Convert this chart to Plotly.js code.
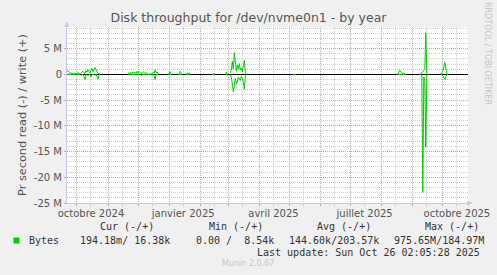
<!DOCTYPE html>
<html>
<head>
<meta charset="utf-8">
<script src="https://cdn.plot.ly/plotly-3.0.1.min.js"></script>
<style>
  html, body { margin: 0; padding: 0; background: #f0f0f0; }
  #chart { width: 497px; height: 275px; }
</style>
</head>
<body>
<div id="chart"></div>
<script>
// ---------- DATA (values in M bytes/s, daily samples) ----------
const rangeStart = '2024-09-21 02:05:28';
const rangeEnd   = '2025-10-26 02:05:28';

// each cluster: first day, write values (+), read values (shown as -)
const clusterStarts = ['2024-09-21','2024-11-21','2024-12-31','2025-01-10','2025-01-18',
                       '2025-02-13','2025-02-26','2025-03-03','2025-05-05','2025-08-17',
                       '2025-09-08','2025-09-29'];
const writeA = [0.6,0.7,0.5,0.3,0.2,0.2,0.1,0.3,0.2,0.1,0.2,0.3,0.2,0.1,0.3,0.5,0.6,0.3,0.2,0.7,0.4,0.9,0.5,0.3,0.8,1.2,0.5,0.9,1.3,1.0,0.4,0.2,0.1,0];
const readA  = [0,0,0.1,0,0,0.1,0,0,0,0.1,0,0,0,0,0.2,0,0,0.4,1.0,0.2,0,0.3,0,0,0.5,0,0,0,0.2,0,0.4,0.9,0.2,0];
const writeB = [0.2,0.3,0.1,0.4,0.2,0.5,0.3,0.4,0.2,0.6,0.3,0.5,0.4,0.2,0.3,0.5,0.4,0.2,0.3,0.1,0,0,0,0,0.1,0.4,0.2,0.9,0.3,0.5,0.1];
const readB  = [0,0,0,0,0,0,0,0,0,0,0,0,0,0.2,0,0,0,0,0,0,0,0,0,0,0,0,0.3,1.0,0,0,0];
const writeC1 = [0,0.2,0.5,0.1,0];
const readC1  = [0,0,0,0,0];
const writeC2 = [0,0.3,0.6,0.2,0];
const readC2  = [0,0,0,0,0];
const writeC3 = [0,0.3,0.1,0.3,0];
const readC3  = [0,0,0,0,0];
const writeC4 = [0,0.15,0];
const readC4  = [0,0,0];
const writeD0 = [0,0.4,0];
const readD0  = [0,0,0];
const writeD = [0.3,0.8,2.5,1.0,4.2,1.5,0.6,1.8,1.0,2.1,0.8,1.2,0.5,1.6,2.7,0.4,0];
const readD  = [0,0.6,1.8,3.4,2.2,0.8,1.9,1.5,0.5,0.9,1.2,0.4,0.8,1.6,2.9,0.3,0];
const writeE0 = [0,0,0];
const readE0  = [0,0.2,0];
const writeE = [0,0.4,0.8,0.5,0.3,0.2,0.2,0.1,0];
const readE  = [0,0,0,0,0,0,0,0,0];
const writeF = [0,0.1,0.3,0.5,0.8,1.0,8.1,0.2,0];
const readF  = [0,0,0.3,22.9,0.5,1.0,14.1,0.2,0];
const writeG = [0,0.2,0.6,1.4,2.3,1.2,0.2,0];
const readG  = [0,0,0.3,0.7,1.0,0.5,0,0];

const writeSets = [writeA,writeB,writeC1,writeC2,writeC3,writeC4,writeD0,writeD,writeE0,writeE,writeF,writeG];
const readSets  = [readA,readB,readC1,readC2,readC3,readC4,readD0,readD,readE0,readE,readF,readG];

// axis labels
const monthStarts = ['2024-10-01','2024-11-01','2024-12-01','2025-01-01','2025-02-01','2025-03-01',
                     '2025-04-01','2025-05-01','2025-06-01','2025-07-01','2025-08-01','2025-09-01','2025-10-01'];
const midMonths = ['2024-09-15','2024-10-15','2024-11-15','2024-12-15','2025-01-15','2025-02-15','2025-03-15',
                   '2025-04-15','2025-05-15','2025-06-15','2025-07-15','2025-08-15','2025-09-15','2025-10-15'];
const xLabelDates = ['2024-10-15','2025-01-15','2025-04-15','2025-07-15','2025-10-15'];
const xLabelText  = ['octobre 2024','janvier 2025','avril 2025','juillet 2025','octobre 2025'];
const yTickVals = [-25,-20,-15,-10,-5,0,5];
const yTickText = ['-25 M','-20 M','-15 M','-10 M','-5 M','0','5 M'];

const legendHeaders = ['Cur (-/+)','Min (-/+)','Avg (-/+)','Max (-/+)'];
const legendValues  = ['194.18m/ 16.38k','0.00 /  8.54k','144.60k/203.57k','975.65M/184.97M'];
const seriesName = 'Bytes';
const lastUpdate = 'Last update: Sun Oct 26 02:05:28 2025';

// ---------- build traces ----------
function addDays(iso, n) {
  const d = new Date(iso + 'T00:00:00Z');
  d.setUTCDate(d.getUTCDate() + n);
  return d.toISOString().slice(0, 10);
}
const xs = [], yw = [], yr = [];
clusterStarts.forEach((s, ci) => {
  writeSets[ci].forEach((v, i) => {
    xs.push(addDays(s, i)); yw.push(v); yr.push(-readSets[ci][i]);
  });
  xs.push(addDays(s, writeSets[ci].length)); yw.push(null); yr.push(null);
});

const GREEN = '#00cc00';
const traces = [
  {x: xs, y: yr, type: 'scatter', mode: 'lines', line: {color: GREEN, width: 1}, connectgaps: false, hoverinfo: 'skip', showlegend: false},
  {x: xs, y: yw, type: 'scatter', mode: 'lines', line: {color: GREEN, width: 1}, connectgaps: false, hoverinfo: 'skip', showlegend: false},
  {x: [xLabelDates[0]], y: [null], xaxis: 'x2', type: 'scatter', mode: 'lines', hoverinfo: 'skip', showlegend: false}
];

// ---------- layout ----------
const L = 67, R = 468, T = 27, B = 203, W = 497, H = 275;
const px = p => (p - L) / (R - L);
const py = p => (B - p) / (B - T);
const RED = '#eb9999', GRAY = '#cfcfcf', AXIS = '#c4c8f0', TXT = '#555555';
const mono = {family: 'DejaVu Sans Mono', size: 10, color: '#333333'};

const annotations = [];
// axis arrows
annotations.push({xref: 'paper', yref: 'paper', x: px(67), y: py(24), text: '▲', showarrow: false,
  font: {family: 'DejaVu Sans', size: 7, color: AXIS}, xanchor: 'center', yanchor: 'middle'});
annotations.push({xref: 'paper', yref: 'paper', x: px(470), y: py(203), text: '▶', showarrow: false,
  font: {family: 'DejaVu Sans', size: 7, color: AXIS}, xanchor: 'center', yanchor: 'middle'});
// watermark
annotations.push({xref: 'paper', yref: 'paper', x: px(488), y: py(53), text: 'RRDTOOL / TOBI OETIKER', textangle: 90,
  showarrow: false, font: {family: 'DejaVu Sans', size: 8, color: '#c4c4c4'}, xanchor: 'center', yanchor: 'middle'});
// legend
const headerX = [98, 207, 315, 423];
legendHeaders.forEach((t, i) => annotations.push({xref: 'paper', yref: 'paper', x: px(headerX[i]), y: py(227), text: t.replace(/ /g, '&nbsp;'),
  showarrow: false, font: mono, xanchor: 'left', yanchor: 'middle'}));
const valueX = [78, 194, 287, 392];
legendValues.forEach((t, i) => annotations.push({xref: 'paper', yref: 'paper', x: px(valueX[i]), y: py(240), text: t.replace(/ /g, '&nbsp;'),
  showarrow: false, font: mono, xanchor: 'left', yanchor: 'middle'}));
annotations.push({xref: 'paper', yref: 'paper', x: px(27), y: py(240), text: seriesName, showarrow: false, font: mono, xanchor: 'left', yanchor: 'middle'});
annotations.push({xref: 'paper', yref: 'paper', x: px(16.5), y: py(240), text: '', width: 5, height: 5, bgcolor: GREEN, borderpad: 0,
  showarrow: false, xanchor: 'center', yanchor: 'middle'});
annotations.push({xref: 'paper', yref: 'paper', x: px(482), y: py(252.5), text: lastUpdate.replace(/ /g, '&nbsp;'), showarrow: false, font: mono, xanchor: 'right', yanchor: 'middle'});
annotations.push({xref: 'paper', yref: 'paper', x: px(248), y: py(263), text: 'Munin 2.0.67', showarrow: false,
  font: {family: 'DejaVu Sans', size: 8, color: '#c8c8c8'}, xanchor: 'center', yanchor: 'middle'});

const layout = {
  width: W, height: H,
  margin: {l: L, r: W - R, t: T, b: H - B, pad: 0},
  paper_bgcolor: '#f0f0f0', plot_bgcolor: '#ffffff',
  showlegend: false,
  title: {text: 'Disk throughput for /dev/nvme0n1 - by year', x: 0.5, xanchor: 'center', y: 1 - 18 / H, yanchor: 'middle',
    font: {family: 'DejaVu Sans', size: 12.5, color: TXT}},
  xaxis: {type: 'date', range: [rangeStart, rangeEnd], tickmode: 'array', tickvals: monthStarts, showticklabels: false,
    showgrid: true, gridcolor: RED, griddash: '1px,1px', gridwidth: 1,
    ticks: 'outside', ticklen: 2, tickcolor: RED, tickwidth: 1,
    showline: true, linecolor: AXIS, linewidth: 1, zeroline: false, fixedrange: true,
    minor: {tickmode: 'array', tickvals: midMonths, showgrid: true, gridcolor: GRAY, griddash: '1px,1px', gridwidth: 1,
      ticks: 'outside', ticklen: 2, tickcolor: GRAY}},
  xaxis2: {type: 'date', range: [rangeStart, rangeEnd], overlaying: 'x', anchor: 'y', side: 'bottom',
    tickmode: 'array', tickvals: xLabelDates, ticktext: xLabelText, showgrid: false, showline: false, zeroline: false,
    ticks: '', tickfont: {family: 'DejaVu Sans', size: 10, color: TXT}, ticklabelstandoff: 3, fixedrange: true},
  yaxis: {range: [-25, 9.2], tickmode: 'array', tickvals: yTickVals, ticktext: yTickText,
    showgrid: true, gridcolor: RED, griddash: '1px,1px', gridwidth: 1,
    ticks: 'outside', ticklen: 2, tickcolor: RED,
    minor: {tickmode: 'linear', tick0: 0, dtick: 1, showgrid: true, gridcolor: GRAY, griddash: '1px,1px', gridwidth: 1},
    zeroline: true, zerolinecolor: '#000000', zerolinewidth: 1,
    showline: true, linecolor: AXIS, linewidth: 1, fixedrange: true,
    tickfont: {family: 'DejaVu Sans', size: 10, color: TXT},
    title: {text: 'Pr second read (-) / write (+)', font: {family: 'DejaVu Sans', size: 11.3, color: TXT}, standoff: 4}},
  annotations: annotations
};

Plotly.newPlot('chart', traces, layout, {staticPlot: true, displayModeBar: false});
</script>
</body>
</html>
